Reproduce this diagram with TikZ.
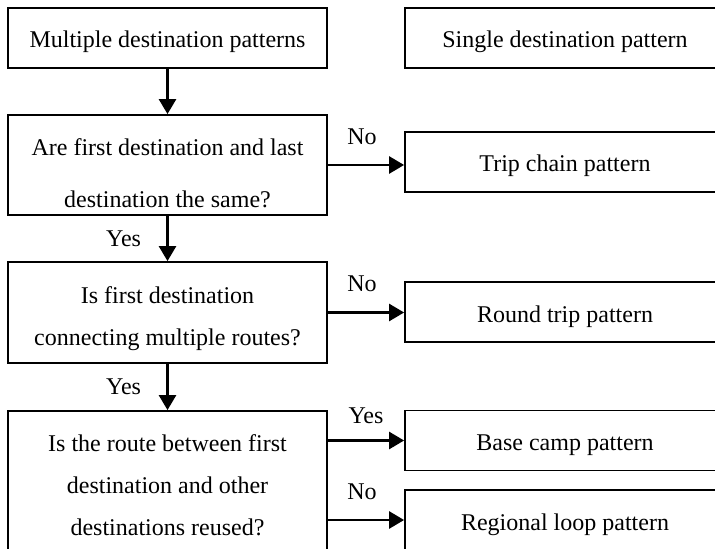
\documentclass[tikz,border=0pt]{standalone}
\usepackage{fontspec}
\setmainfont{Liberation Serif}
\usetikzlibrary{positioning,arrows.meta}

\begin{document}
\begin{tikzpicture}[>={Triangle[length=7.5pt,width=8.5pt]},on grid,
  box/.style={draw,line width=0.9pt,inner sep=0pt,align=center,
    font=\fontsize{12}{21}\selectfont},
  lbox/.style={box,minimum width=159.5pt},
  rbox/.style={box,minimum width=160pt,minimum height=30pt,text height=10pt,text depth=0pt},
  flow/.style={->,line width=1.3pt},
  lbl/.style={inner sep=0pt,font=\fontsize{12}{14}\selectfont}]
  \useasboundingbox (0,0) rectangle (357.5pt,-274.5pt);
  \clip (0,0) rectangle (357.5pt,-274.5pt);

  % left column
  \node[lbox,minimum height=30pt,text height=10pt,text depth=0pt] (multi) at (83.75pt,-19pt) {Multiple destination patterns};
  \node[lbox,minimum height=50pt] (same) [below=63.5pt of multi] {\rule{0pt}{16.5pt}Are first destination and last\\[5pt]destination the same?};
  \node[lbox,minimum height=50.5pt] (hub) [below=73.75pt of same] {\rule{0pt}{14.5pt}Is first destination\\connecting multiple routes?};
  \node[lbox,minimum height=74.5pt] (reuse) [below=86.5pt of hub] {Is the route between first\\destination and other\\destinations reused?};

  % right column
  \node[rbox] (single) [right=198.75pt of multi] {Single destination pattern};
  \node[rbox] (chain) [below=62pt of single] {Trip chain pattern};
  \node[rbox] (round) [below=75pt of chain] {Round trip pattern};
  \node[rbox] (base) [below=64.25pt of round] {Base camp pattern};
  \node[rbox] (loop) [below=39.75pt of base] {Regional loop pattern};

  \draw[flow] (multi) -- (same);
  \draw[flow] (same) -- node[lbl,left=12.6pt] {Yes} (hub);
  \draw[flow] (hub) -- node[lbl,left=12.6pt] {Yes} (reuse);
  \draw[flow] (same.east) -- node[lbl,above=9.5pt,xshift=-2pt] {No} (same.east -| chain.west);
  \draw[flow] (hub.east) -- node[lbl,above=9.5pt,xshift=-2pt] {No} (hub.east -| round.west);
  \draw[flow] (reuse.east |- base.west) -- node[lbl,above=7.5pt] {Yes} (base.west);
  \draw[flow] (reuse.east |- loop.west) -- node[lbl,above=9.5pt,xshift=-2pt] {No} (loop.west);
\end{tikzpicture}
\end{document}
